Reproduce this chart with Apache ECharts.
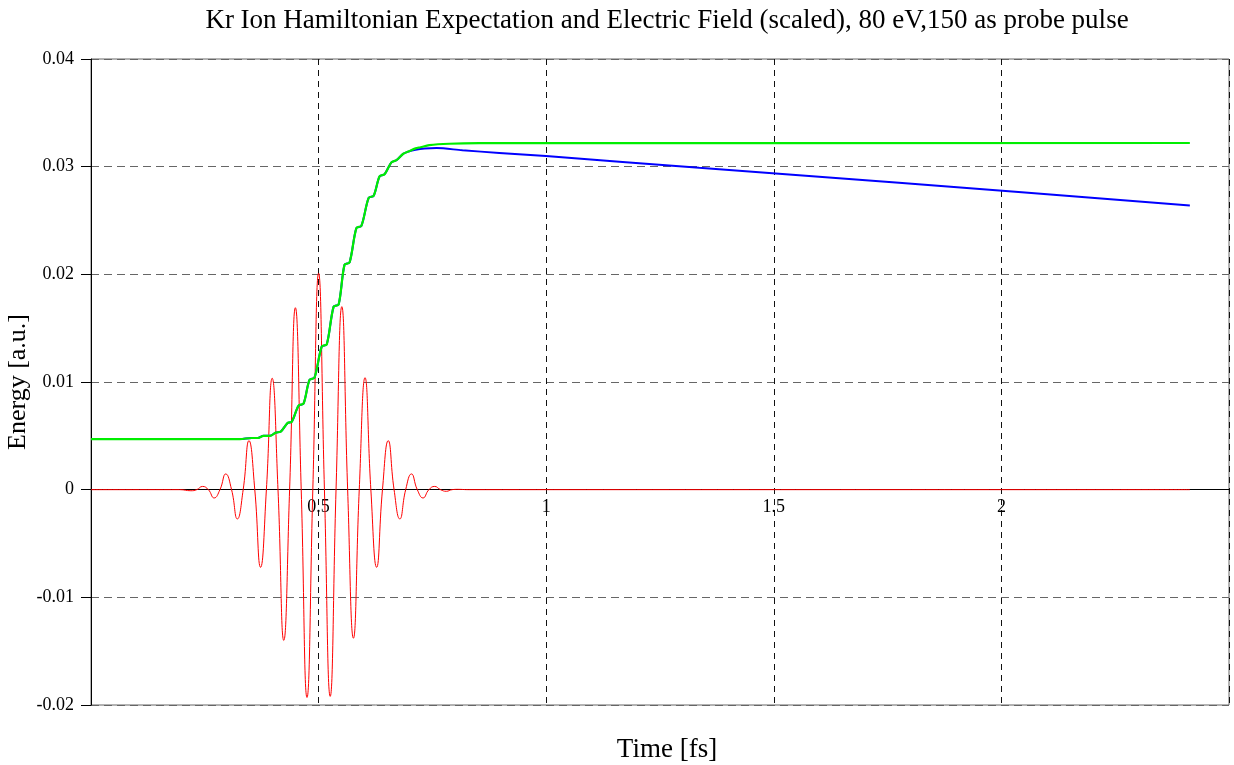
<!DOCTYPE html>
<html>
<head>
<meta charset="utf-8">
<script src="https://cdn.jsdelivr.net/npm/echarts@6/dist/echarts.min.js"></script>
<style>html,body{margin:0;padding:0;background:#fff}#c{width:1234px;height:765px}</style>
</head>
<body>
<div id="c"></div>
<script>
// ---- data ----
const titleText = 'Kr Ion Hamiltonian Expectation and Electric Field (scaled), 80 eV,150 as probe pulse';
const xName = 'Time [fs]';
const yName = 'Energy [a.u.]';
const yTicks = [-0.02, -0.01, 0, 0.01, 0.02, 0.03, 0.04];
const xTicks = [0.5, 1, 1.5, 2];

// Electric field (scaled) - red
const fieldT = [0, 0.195, 0.2195, 0.2323, 0.245, 0.2578, 0.2705, 0.2833, 0.296, 0.3088, 0.3215, 0.3343,
  0.347, 0.3598, 0.3725, 0.3853, 0.398, 0.4108, 0.4235, 0.4363, 0.449, 0.4618, 0.4745, 0.4873,
  0.5, 0.5128, 0.5255, 0.5383, 0.551, 0.5638, 0.5765, 0.5893, 0.602, 0.6148, 0.6275, 0.6403,
  0.653, 0.6658, 0.6785, 0.6913, 0.704, 0.7168, 0.7295, 0.7423, 0.755, 0.7678, 0.7805, 0.7933,
  0.806, 0.83, 2.414];
const fieldV = [0, 0, -0.0001, 0, 0.0003, 0, -0.00077, 0, 0.00146, 0, -0.00272, 0,
  0.00455, 0, -0.00721, 0, 0.01035, 0, -0.0140, 0, 0.0169, 0, -0.0193, 0,
  0.0201, 0, -0.0192, 0, 0.0170, 0, -0.0138, 0, 0.0104, 0, -0.00721, 0,
  0.00455, 0, -0.00272, 0, 0.00146, 0, -0.00077, 0, 0.0003, 0, -0.00015, 0,
  0.00003, 0, 0];

// Hamiltonian expectation (green)
const hamT = [0, 0.327, 0.353, 0.366, 0.379, 0.393, 0.406, 0.417, 0.432, 0.441, 0.456, 0.467,
  0.480, 0.491, 0.507, 0.518, 0.533, 0.544, 0.557, 0.568, 0.583, 0.594, 0.610, 0.621,
  0.634, 0.645, 0.660, 0.671, 0.686, 0.697, 0.713, 0.724, 0.743, 0.787, 0.853, 2.414];
const hamV = [0.0047, 0.0047, 0.0048, 0.0048, 0.0050, 0.0050, 0.0053, 0.0054, 0.0062, 0.0063, 0.0078, 0.0080,
  0.0102, 0.0104, 0.0133, 0.0135, 0.0170, 0.0172, 0.0209, 0.0211, 0.0243, 0.0245, 0.0271, 0.0273,
  0.0291, 0.0293, 0.0304, 0.0306, 0.0312, 0.0314, 0.0317, 0.0318, 0.0320, 0.03213, 0.03218, 0.0322];

// Ion Hamiltonian expectation (blue)
const ionT = [0, 0.327, 0.353, 0.366, 0.379, 0.393, 0.406, 0.417, 0.432, 0.441, 0.456, 0.467,
  0.480, 0.491, 0.507, 0.518, 0.533, 0.544, 0.557, 0.568, 0.583, 0.594, 0.610, 0.621,
  0.634, 0.645, 0.660, 0.671, 0.686, 0.697, 0.713, 0.733, 0.759, 0.816, 0.897, 0.9995,
  1.336, 1.775, 2.414];
const ionV = [0.0047, 0.0047, 0.0048, 0.0048, 0.0050, 0.0050, 0.0053, 0.0054, 0.0062, 0.0063, 0.0078, 0.0080,
  0.0102, 0.0104, 0.0133, 0.0135, 0.0170, 0.0172, 0.0209, 0.0211, 0.0243, 0.0245, 0.0271, 0.0273,
  0.0291, 0.0293, 0.0304, 0.0306, 0.0312, 0.0314, 0.03157, 0.03168, 0.03173, 0.03152, 0.03128, 0.03098,
  0.0299, 0.0285, 0.0264];

const pairs = (t, v) => t.map((x, i) => [x, v[i]]);
const serif = '"Liberation Serif", "DejaVu Serif", serif';

const chart = echarts.init(document.getElementById('c'), null, {renderer: 'canvas'});
chart.setOption({
  animation: false,
  backgroundColor: '#fff',
  title: [
    {text: titleText, left: 662, top: 2, textAlign: 'center',
     textStyle: {fontFamily: serif, fontSize: 27, fontWeight: 'normal', color: '#000'}},
    {text: xName, left: 662, top: 731, textAlign: 'center',
     textStyle: {fontFamily: serif, fontSize: 27, fontWeight: 'normal', color: '#000'}}
  ],
  grid: {left: 91, right: 5, top: 59, bottom: 60, containLabel: false, outerBoundsMode: 'none',
    show: true, borderColor: '#666', borderWidth: 1, backgroundColor: 'transparent'},
  xAxis: {
    type: 'value', min: 0, max: 2.5, interval: 0.5,
    axisLine: {onZero: true, lineStyle: {color: '#000', width: 1}},
    axisTick: {show: false},
    axisLabel: {
      showMinLabel: false, showMaxLabel: false, margin: -207,
      fontFamily: serif, fontSize: 18, color: '#000',
      formatter: v => xTicks.includes(v) ? String(v) : ''
    },
    splitLine: {show: true, lineStyle: {color: '#111', type: [6, 5], width: 1}}
  },
  yAxis: {
    type: 'value', min: yTicks[0], max: yTicks[yTicks.length - 1], interval: 0.01,
    name: yName, nameLocation: 'middle', nameGap: 60, nameMoveOverlap: false,
    nameTextStyle: {fontFamily: serif, fontSize: 26, color: '#000'},
    axisLine: {show: true, lineStyle: {color: '#000', width: 1}},
    axisTick: {show: true, length: 10, lineStyle: {color: '#000'}},
    axisLabel: {margin: 17, fontFamily: serif, fontSize: 18, color: '#000',
      formatter: v => String(Math.round(v * 100) / 100)},
    splitLine: {show: true, lineStyle: {color: '#666', type: [8, 5], width: 1}}
  },
  series: [
    {type: 'line', name: 'Field', data: pairs(fieldT, fieldV), showSymbol: false, smooth: 0.5,
     lineStyle: {color: '#ff0000', width: 1}, z: 2},
    {type: 'line', name: 'Ion', data: pairs(ionT, ionV), showSymbol: false, smooth: 0.3,
     lineStyle: {color: '#0000ff', width: 2}, z: 3},
    {type: 'line', name: 'Hamiltonian', data: pairs(hamT, hamV), showSymbol: false, smooth: 0.3,
     lineStyle: {color: '#00ee00', width: 2.2}, z: 4}
  ]
});
</script>
</body>
</html>
